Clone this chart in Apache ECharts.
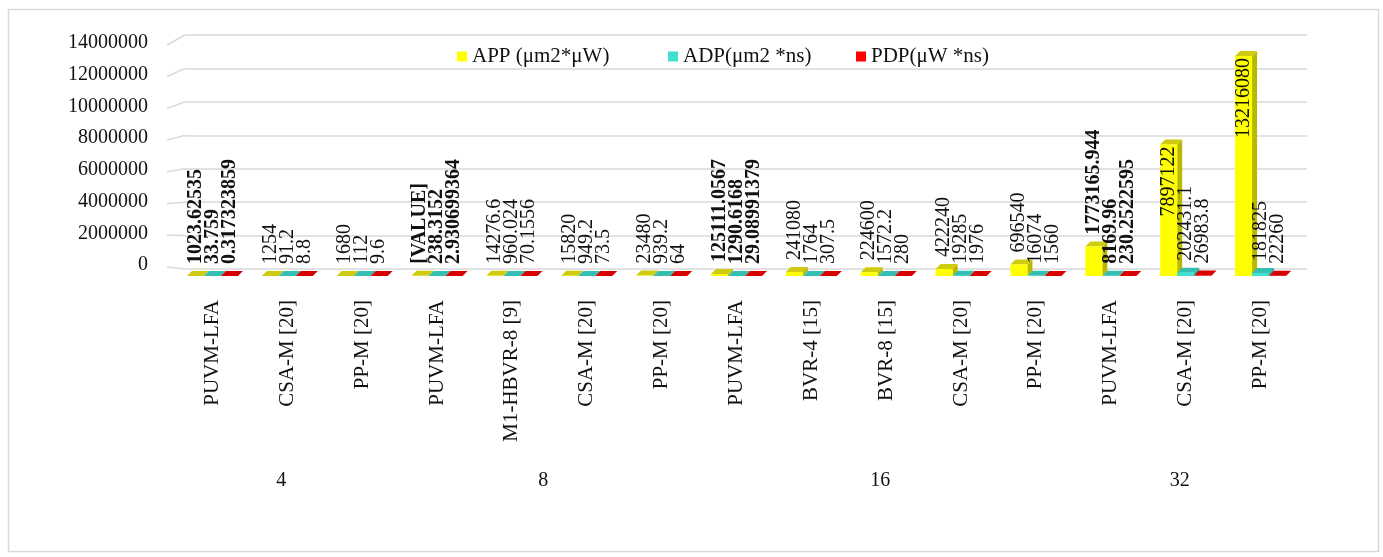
<!DOCTYPE html>
<html lang="en">
<head>
    <meta charset="UTF-8">
    <title>APP / ADP / PDP comparison</title>
    <script src="https://cdn.jsdelivr.net/npm/echarts@6/dist/echarts.min.js"></script>
    <style>
        html, body, #chart {
            width: 1383px;
            height: 557px;
            padding: 0;
            margin: 0;
            background: #fff;
        }
    </style>
</head>
<body>
<div id="chart"></div>
<script>
    // values
    var categories = ["PUVM-LFA", "CSA-M [20]", "PP-M [20]",
        "PUVM-LFA", "M1-HBVR-8 [9]", "CSA-M [20]", "PP-M [20]",
        "PUVM-LFA", "BVR-4 [15]", "BVR-8 [15]", "CSA-M [20]", "PP-M [20]",
        "PUVM-LFA", "CSA-M [20]", "PP-M [20]"];
    var groupNames = ["4", "8", "16", "32"];
    var groupStart = [0, 3, 7, 12];
    var groupEnd = [2, 6, 11, 14];
    var boldIdx = [0, 3, 7, 12];

    var app = [1023.62535, 1254, 1680, 9000, 14276.6, 15820, 23480, 125111.0567,
        241080, 224600, 422240, 696540, 1773165.944, 7897122, 13216080];
    var adp = [33.759, 91.2, 112, 238.3152, 960.024, 949.2, 939.2, 1290.6168,
        1764, 1572.2, 19285, 16074, 8169.96, 202431.1, 181825];
    var pdp = [0.317323859, 8.8, 9.6, 2.930699364, 70.1556, 73.5, 64, 29.08991379,
        307.5, 280, 1976, 1560, 230.2522595, 26983.8, 22260];
    // the one label that shows a placeholder instead of its number
    var appText = {3: "[VALUE]"};

    var seriesNames = ["APP (μm2*μW)", "ADP(μm2 *ns)", "PDP(μW *ns)"];
    var yMax = 14000000, yStep = 2000000;

    var FONT = "'Liberation Serif', 'Times New Roman', serif";
    var front = ["#FFFF00", "#40E0D0", "#FF0000"];
    var side = ["#B8B800", "#2A9E92", "#B00000"];
    var topc = ["#CFCB10", "#34BFB2", "#D80000"];
    var BW = 17, DX = 5, DY = -5;

    var chart = echarts.init(document.getElementById("chart"));

    function barData(values) {
        return values.map(function (v, i) {
            var bold = boldIdx.indexOf(i) >= 0;
            var item = {value: v, label: {fontWeight: bold ? "bold" : "normal"}};
            if (v > 5000000) {
                item.label.position = "insideTop";
                item.label.align = "right";
                item.label.distance = 2;
            }
            return item;
        });
    }

    function render3d(k) {
        return function (params, api) {
            var i = api.value(0), v = api.value(1);
            var t = api.coord([i, v]);
            var b = api.coord([i, 0]);
            var cx = t[0] + (k - 1) * BW;
            var x0 = cx - BW / 2, x1 = cx + BW / 2;
            return {
                type: "group",
                children: [{
                    type: "polygon",
                    shape: {points: [[x1, t[1]], [x1 + DX, t[1] + DY], [x1 + DX, b[1] + DY], [x1, b[1]]]},
                    style: {fill: side[k]}
                }, {
                    type: "polygon",
                    shape: {points: [[x0, t[1]], [x1, t[1]], [x1 + DX, t[1] + DY], [x0 + DX, t[1] + DY]]},
                    style: {fill: topc[k]}
                }]
            };
        };
    }

    var lists = [app, adp, pdp];
    var series = [];
    lists.forEach(function (list, k) {
        series.push({
            type: "custom",
            xAxisIndex: 0,
            yAxisIndex: 0,
            z: 1,
            silent: true,
            renderItem: render3d(k),
            data: list.map(function (v, i) { return [i, v]; }),
            encode: {x: 0, y: 1}
        });
    });
    lists.forEach(function (list, k) {
        series.push({
            name: seriesNames[k],
            type: "bar",
            xAxisIndex: 0,
            yAxisIndex: 0,
            z: 3,
            barWidth: BW,
            barGap: "0%",
            itemStyle: {color: front[k]},
            label: {
                show: true,
                position: "top",
                rotate: 90,
                align: "left",
                verticalAlign: "middle",
                distance: 12,
                fontFamily: FONT,
                fontSize: 20,
                color: "#111",
                formatter: function (p) {
                    if (k === 0 && appText[p.dataIndex] !== undefined) {
                        return appText[p.dataIndex];
                    }
                    return String(lists[k][p.dataIndex]);
                }
            },
            data: barData(list)
        });
    });

    function legendAt(k, left) {
        return {
            data: [seriesNames[k]],
            left: left,
            top: 41,
            icon: "rect",
            itemWidth: 10,
            itemHeight: 10,
            itemGap: 6,
            textStyle: {fontFamily: FONT, fontSize: 21, color: "#111"}
        };
    }

    var hiddenY = {
        type: "value", min: 0, max: yMax, interval: yStep,
        axisLabel: {show: false}, axisLine: {show: false},
        axisTick: {show: false}, splitLine: {show: false}
    };
    var hiddenX = {
        type: "category", data: categories, show: false
    };

    chart.setOption({
        animation: false,
        backgroundColor: "#fff",
        legend: [legendAt(0, 452), legendAt(1, 663), legendAt(2, 851)],
        grid: [
            {left: 175, right: 85, top: 43, bottom: 281},
            {left: 185, right: 76, top: 35, bottom: 288},
            {left: 175, right: 85, top: 43, bottom: 292}
        ],
        xAxis: [{
            type: "category",
            gridIndex: 0,
            data: categories,
            axisLine: {show: false},
            axisTick: {show: false},
            axisLabel: {
                rotate: 90,
                interval: 0,
                margin: 24,
                fontFamily: FONT,
                fontSize: 21,
                color: "#111"
            }
        },
            echarts.util.merge({gridIndex: 1}, hiddenX, true),
            echarts.util.merge({gridIndex: 2}, hiddenX, true)
        ],
        yAxis: [
            echarts.util.merge({gridIndex: 0}, hiddenY, true),
            {
                type: "value", gridIndex: 1, min: 0, max: yMax, interval: yStep,
                axisLabel: {show: false}, axisLine: {show: false}, axisTick: {show: false},
                splitLine: {show: true, lineStyle: {color: "#d9d9d9", width: 1.5}}
            },
            {
                type: "value", gridIndex: 2, min: 0, max: yMax, interval: yStep,
                axisLine: {show: false}, axisTick: {show: false}, splitLine: {show: false},
                axisLabel: {
                    margin: 27, fontFamily: FONT, fontSize: 20, color: "#111",
                    formatter: function (v) { return String(v); }
                }
            }
        ],
        series: series
    });

    // frame, the short side-wall strokes and the group labels of the outer axis level
    var graphics = [{
        type: "rect",
        left: 6, top: 7,
        shape: {width: 1370, height: 542},
        style: {fill: null, stroke: "#d9d9d9", lineWidth: 1.5},
        silent: true
    }];
    for (var v = 0; v <= yMax; v += yStep) {
        var yf = chart.convertToPixel({yAxisIndex: 2}, v) + 2;
        var yb = chart.convertToPixel({yAxisIndex: 1}, v);
        graphics.push({
            type: "line",
            shape: {x1: 167, y1: yf, x2: 185, y2: yb},
            style: {stroke: "#d9d9d9", lineWidth: 1.5},
            silent: true
        });
    }
    groupNames.forEach(function (g, j) {
        var a = chart.convertToPixel({xAxisIndex: 0}, groupStart[j]);
        var b = chart.convertToPixel({xAxisIndex: 0}, groupEnd[j]);
        graphics.push({
            type: "text",
            x: (a + b) / 2 - 6,
            y: 481,
            style: {
                text: g, fontFamily: FONT, fontSize: 20, fill: "#111",
                align: "center", verticalAlign: "middle"
            },
            silent: true
        });
    });
    chart.setOption({graphic: graphics});
</script>
</body>
</html>
